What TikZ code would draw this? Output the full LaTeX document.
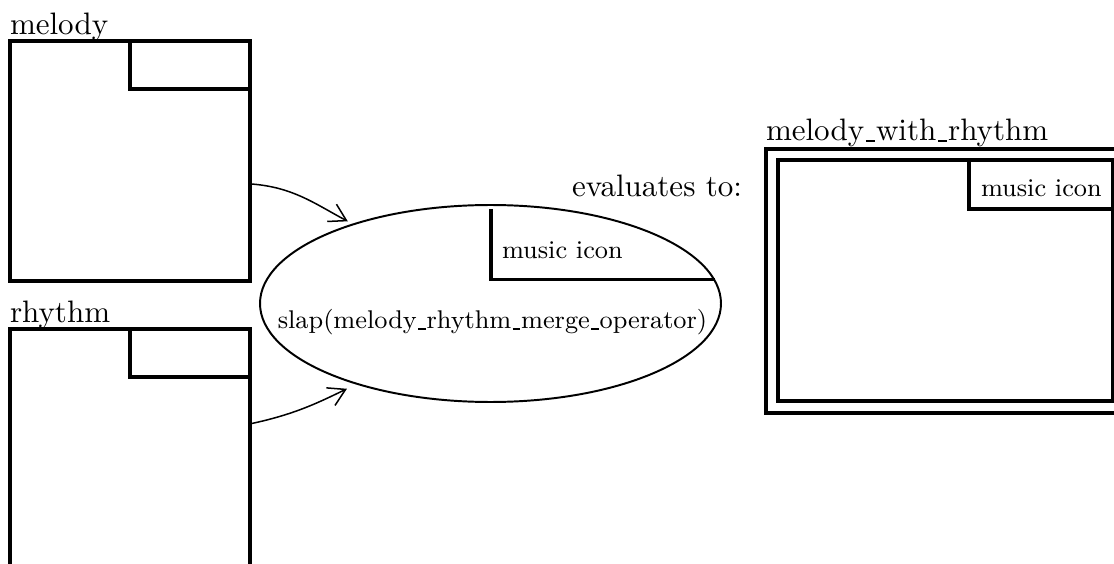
\documentclass[tikz,border=0pt]{standalone}
\usetikzlibrary{arrows.meta,fit,shapes.geometric}

% short low bar used between words of identifiers
\newcommand\lowbar{\kern0.05em\rule[-0.02em]{0.3em}{0.045em}\kern0.03em}

\tikzset{
  frame/.style={draw, line width=1pt, inner sep=0pt, outer sep=0pt},
  lbl/.style={inner sep=0pt, outer sep=0pt, font=\fontsize{10.3}{12}\selectfont},
  small/.style={inner sep=0pt, outer sep=0pt, font=\fontsize{8.5}{10}\selectfont},
  iconline/.style={line width=1pt},
  opshape/.style={draw, ellipse, line width=0.65pt, inner sep=0pt,
    minimum width=153.05pt, minimum height=65.4pt},
  arr/.style={line width=0.5pt, -{Straight Barb[length=5.5pt,width=6.5pt]}}
}

\begin{document}
\begin{tikzpicture}[x=0.332pt, y=0.332pt]
  \clip (0,0) rectangle (1114,563);

  % input: melody
  \node[lbl, anchor=base west] (melLbl) at (10,528) {melody};
  \node[frame, fit={(10,282) (250,522)}] (mel) {};
  \node[frame, fit={(130,474) (250,522)}] (melIcon) {};

  % input: rhythm
  \node[lbl, anchor=base west] (rhyLbl) at (10,240) {rhythm};
  \node[frame, fit={(10,-6) (250,234)}] (rhy) {};
  \node[frame, fit={(130,186) (250,234)}] (rhyIcon) {};

  % the operator
  \node[opshape] (op) at (490.5,259.5) {};
  \draw[iconline] (491,354) |- (op.6);
  \node[small, anchor=base west] (opIcon) at (502,305) {music icon};
  \node[small, anchor=base] (opText) at (492.5,234) {slap(melody\lowbar rhythm\lowbar merge\lowbar operator)};

  % inputs flowing into the operator
  \draw[arr, shorten >=1.7pt] ([yshift=-7.6pt]mel.east) to[out=-4, in=152] (op.150.2);
  \draw[arr, shorten >=3.3pt] ([yshift=-31.5pt]rhy.north east) to[out=12, in=206] (op.211);

  % result
  \node[lbl, anchor=base east] (evalLbl) at (742,366) {evaluates to:};
  \node[lbl, anchor=base west] (resLbl) at (766,422) {melody\lowbar with\lowbar rhythm};
  \node[frame, fit={(766,150) (1126,414)}] (res) {};
  \node[frame, fit={(778,162) (1113,403)}] (resInner) {};
  \node[frame, fit={(969,354) (1113,403)}] (resIcon) {};
  \node[small, anchor=base west] (resIconTxt) at (981,366) {music icon};
\end{tikzpicture}
\end{document}
